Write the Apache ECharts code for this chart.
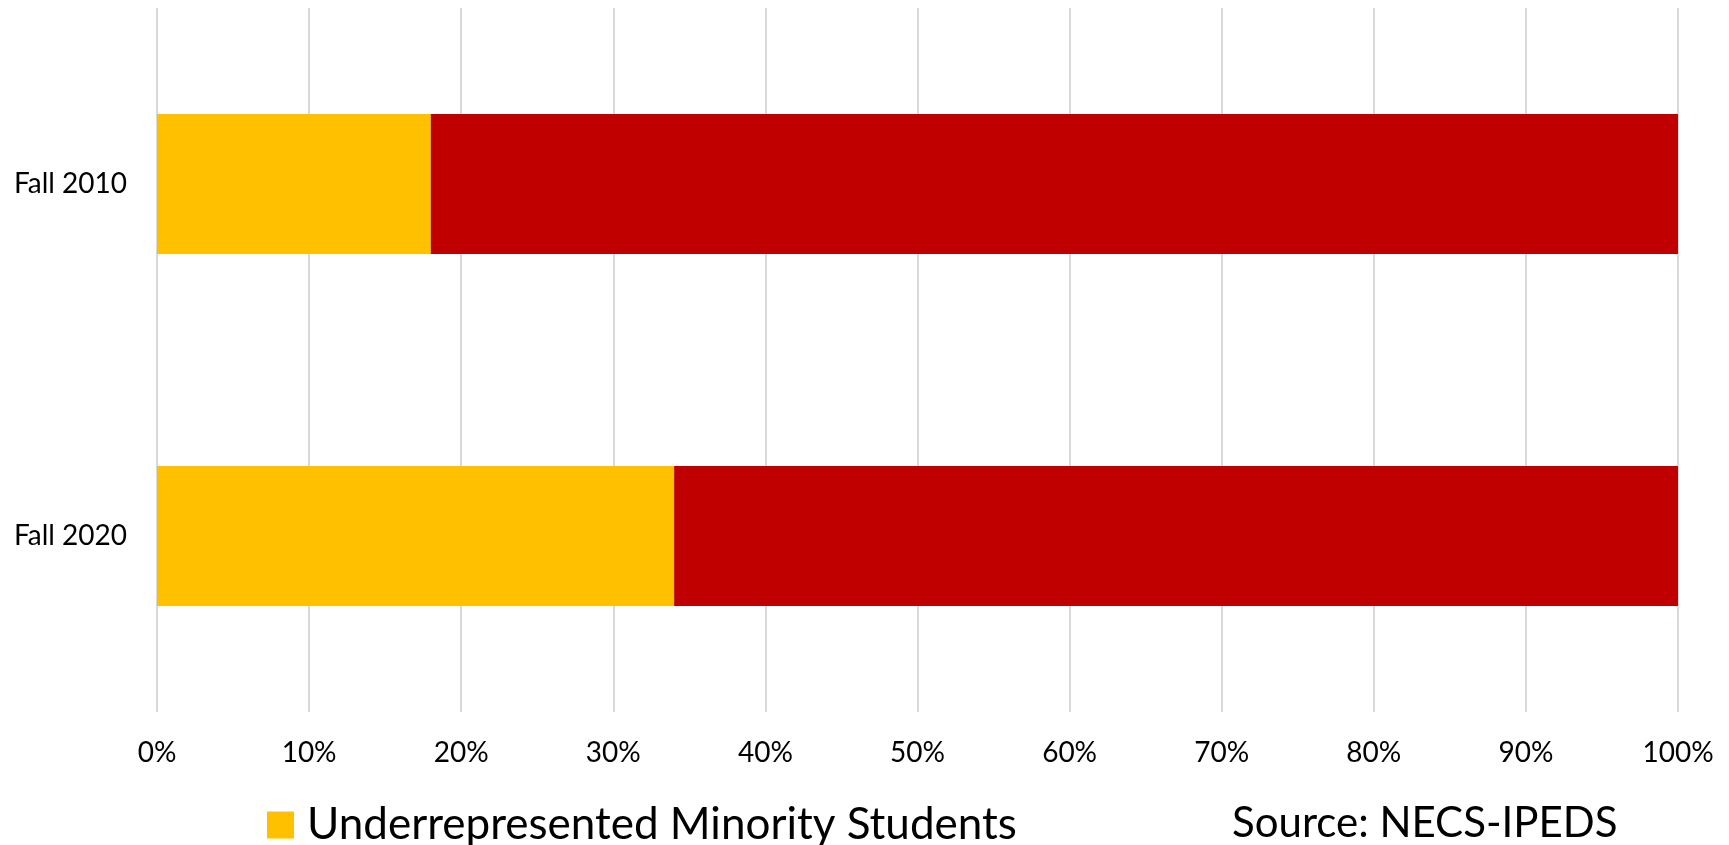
<!DOCTYPE html>
<html>
<head>
<meta charset="utf-8">
<script src="https://cdn.jsdelivr.net/npm/echarts@6/dist/echarts.min.js"></script>
<style>
html,body{margin:0;padding:0;background:#fff;}
#chart{width:1729px;height:845px;}
</style>
</head>
<body>
<div id="chart"></div>
<script>
const categories = ['Fall 2010', 'Fall 2020'];
const minorityValues = [18, 34];
const otherValues = [82, 66];
const xTicks = [0, 10, 20, 30, 40, 50, 60, 70, 80, 90, 100];
const minorityName = 'Underrepresented Minority Students';
const otherName = 'Other Students';
const sourceText = 'Source: NECS-IPEDS';

const chart = echarts.init(document.getElementById('chart'));
const font = 'Lato';
chart.setOption({
  animation: false,
  backgroundColor: '#ffffff',
  textStyle: { fontFamily: font },
  grid: { left: 157, right: 51, top: 8, bottom: 133, containLabel: false },
  xAxis: {
    type: 'value',
    min: xTicks[0],
    max: xTicks[xTicks.length - 1],
    interval: 10,
    axisLine: { show: false },
    axisTick: { show: false },
    splitLine: { show: true, lineStyle: { color: '#d9d9d9', width: 2 } },
    axisLabel: {
      formatter: v => v + '%',
      fontFamily: font, fontSize: 28, color: '#000', margin: 27, lineHeight: 28
    }
  },
  yAxis: {
    type: 'category',
    data: categories,
    inverse: true,
    axisLine: { show: false },
    axisTick: { show: false },
    splitLine: { show: false },
    axisLabel: { fontFamily: font, fontSize: 28, color: '#000', margin: 30 }
  },
  legend: {
    data: [minorityName],
    left: 262,
    top: 798,
    itemWidth: 27,
    itemHeight: 27,
    icon: 'rect',
    textStyle: { fontFamily: font, fontSize: 44, color: '#000', padding: [0, 0, 0, 8] }
  },
  graphic: [{
    type: 'text',
    x: 1232,
    y: 823,
    style: { text: sourceText, fontFamily: font, fontSize: 42, fill: '#000', verticalAlign: 'middle', align: 'left' }
  }],
  series: [
    {
      name: minorityName, type: 'bar', stack: 'total', data: minorityValues,
      barWidth: 140, itemStyle: { color: '#FFC000' }
    },
    {
      name: otherName, type: 'bar', stack: 'total', data: otherValues,
      barWidth: 140, itemStyle: { color: '#C00000' }
    }
  ]
});
</script>
</body>
</html>
